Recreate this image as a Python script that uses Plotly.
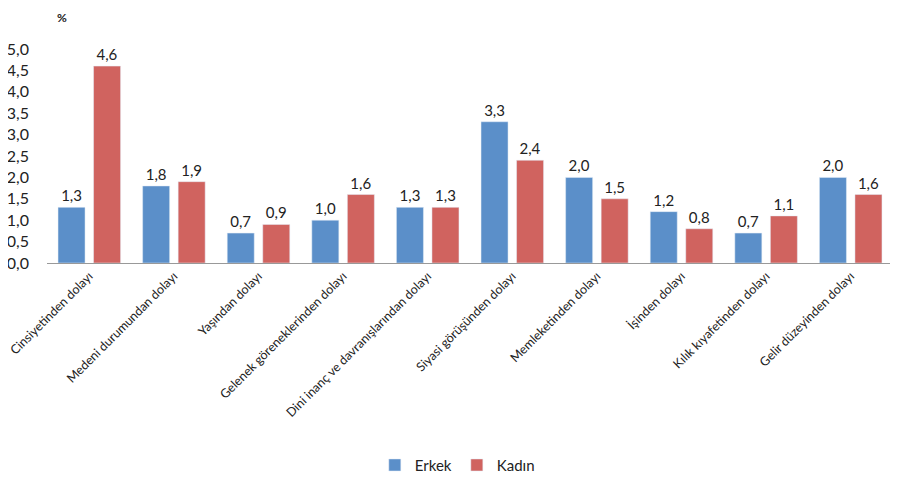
import plotly.graph_objects as go

categories = ["Cinsiyetinden dolayı", "Medeni durumundan dolayı", "Yaşından dolayı",
              "Gelenek göreneklerinden dolayı", "Dini inanç ve davranışlarından dolayı",
              "Siyasi görüşünden dolayı", "Memleketinden dolayı", "İşinden dolayı",
              "Kılık kıyafetinden dolayı", "Gelir düzeyinden dolayı"]
erkek = [1.3, 1.8, 0.7, 1.0, 1.3, 3.3, 2.0, 1.2, 0.7, 2.0]
kadin = [4.6, 1.9, 0.9, 1.6, 1.3, 2.4, 1.5, 0.8, 1.1, 1.6]
y_ticks = [0, 0.5, 1, 1.5, 2, 2.5, 3, 3.5, 4, 4.5, 5]

FONT = "Lato, 'Open Sans', sans-serif"
fig = go.Figure()
fig.add_trace(go.Bar(name="Erkek", x=categories, y=erkek, marker_color="#5B8FC9",
                     text=[f"{v:.1f}".replace(".", ",") for v in erkek], textposition="outside",
                     textfont=dict(size=15, color="#222"), cliponaxis=False))
fig.add_trace(go.Bar(name="Kadın", x=categories, y=kadin, marker_color="#D0635F",
                     text=[f"{v:.1f}".replace(".", ",") for v in kadin], textposition="outside",
                     textfont=dict(size=15, color="#222"), cliponaxis=False))

# page body has an 8px margin, so the figure is 8px smaller than the window
fig.update_layout(
    width=890, height=472,
    margin=dict(l=39, r=5, t=41, b=217, autoexpand=False),
    paper_bgcolor="white", plot_bgcolor="white",
    separators=",.",
    barmode="group", bargap=0.16, bargroupgap=0.24,
    font=dict(family=FONT, size=14, color="#222"),
    showlegend=True,
    legend=dict(orientation="h", x=0.485, xanchor="center", y=-0.945, yanchor="middle",
                font=dict(size=15), itemwidth=30, traceorder="normal"),
    xaxis=dict(tickangle=-45, tickfont=dict(size=12.5), showline=True, linecolor="#999",
               linewidth=1, showgrid=False, ticks="", automargin=False),
    yaxis=dict(range=[0, 5], tickvals=y_ticks, tickformat=".1f", showgrid=False,
               zeroline=False, showline=False, tickfont=dict(size=16), ticks="",
               automargin=False, ticklabelstandoff=17),
    annotations=[dict(text="<b>%</b>", xref="paper", yref="paper", x=0.018, y=1 + 41 / 214,
                      xanchor="center", yanchor="top", showarrow=False,
                      font=dict(size=12, color="#222"))],
)
fig.write_html("out.html")
